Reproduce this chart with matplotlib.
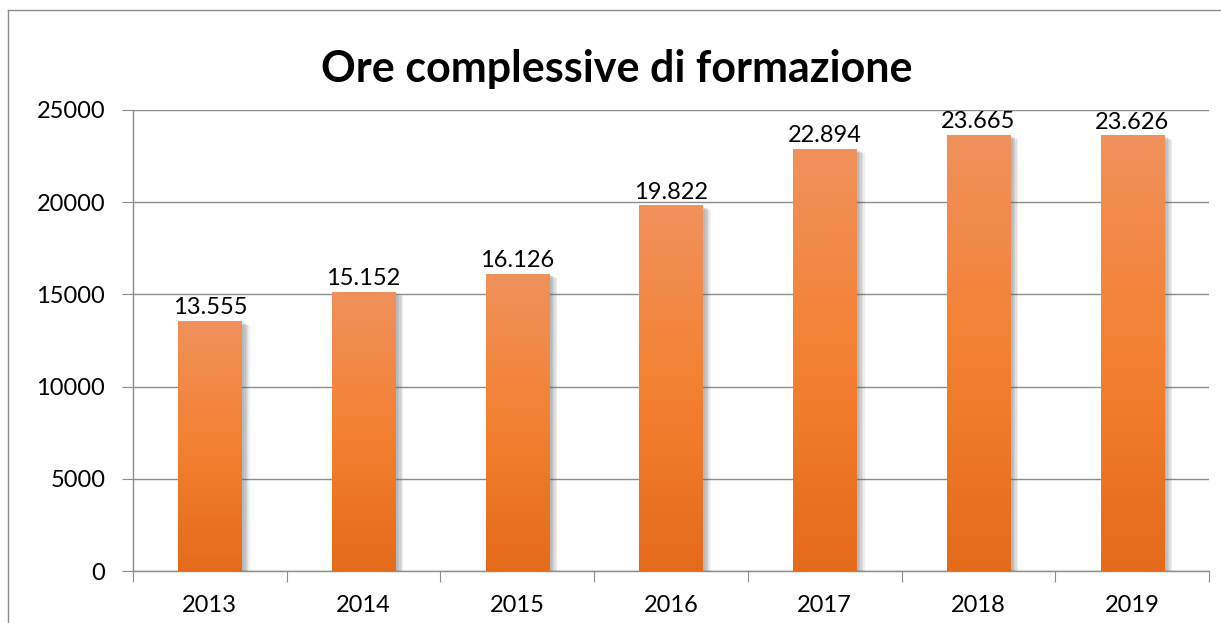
import numpy as np
import matplotlib
matplotlib.use("Agg")
import matplotlib.pyplot as plt
from matplotlib.lines import Line2D
from matplotlib import patheffects as pe
from matplotlib.colors import LinearSegmentedColormap

years = ["2013", "2014", "2015", "2016", "2017", "2018", "2019"]
hours = [13555, 15152, 16126, 19822, 22894, 23665, 23626]
labels = ["13.555", "15.152", "16.126", "19.822", "22.894", "23.665", "23.626"]
yticks = [0, 5000, 10000, 15000, 20000, 25000]
title = "Ore complessive di formazione"

plt.rcParams['font.family'] = ['Lato', 'DejaVu Sans']

fig = plt.figure(figsize=(12.21, 6.23), dpi=100)
ax = fig.add_axes([133/1221, 1-571/623, (1209-133)/1221, (571-110)/623])

grad = LinearSegmentedColormap.from_list(
    "g", [(0.0, "#e46b1b"), (0.5, "#f38131"), (1.0, "#f0915c")])

x = np.arange(len(years))
bars = ax.bar(x, hours, width=0.41, color="#f38131", zorder=3)
shadow = [pe.SimplePatchShadow(offset=(o, -0.5 * o), shadow_rgbFace=(0.35, 0.35, 0.35), alpha=0.10)
          for o in (6, 5, 4, 3, 2)]
for b in bars:
    b.set_path_effects(shadow + [pe.Normal()])
    bx = b.get_x()
    w, h = b.get_width(), b.get_height()
    img = ax.imshow(np.linspace(0, 1, 256).reshape(-1, 1), cmap=grad, origin="lower",
                    extent=[bx, bx + w, 0, h], aspect="auto", zorder=4)
    img.set_clip_path(b)

for xi, v, lab in zip(x, hours, labels):
    ax.text(xi, v + 150, lab, ha="center", va="bottom", fontsize=17, color="black", zorder=5)

ax.set_xlim(-0.5, len(years) - 0.5)
ax.set_ylim(0, 25000)
ax.set_yticks(yticks)
ax.set_yticklabels([str(t) for t in yticks])
ax.set_xticks(np.arange(-0.5, len(years), 1.0))
ax.set_xticklabels([])
ax.set_xticks(x, minor=True)
ax.set_xticklabels(years, minor=True)
ax.tick_params(axis="x", which="major", length=8, color="#8c8c8c", direction="out")
ax.tick_params(axis="x", which="minor", length=0, pad=17, labelsize=17)
ax.tick_params(axis="y", length=8, color="#8c8c8c", pad=12, labelsize=17)

ax.grid(axis="y", color="#8c8c8c", linewidth=1, zorder=0)
ax.set_axisbelow(True)
for s in ["top", "right"]:
    ax.spines[s].set_visible(False)
for s in ["left", "bottom"]:
    ax.spines[s].set_color("#8c8c8c")
    ax.spines[s].set_linewidth(1)

fig.text(0.505, 1 - 82/623, title, ha="center", va="baseline", fontsize=31, fontweight="bold")

# outer border
fig.add_artist(Line2D([8/1221, 1.0], [1 - 10/623, 1 - 10/623], transform=fig.transFigure, color="#8c8c8c", lw=1))
fig.add_artist(Line2D([8/1221, 8/1221], [0, 1 - 10/623], transform=fig.transFigure, color="#8c8c8c", lw=1))

fig.savefig("out.png", dpi=100)
